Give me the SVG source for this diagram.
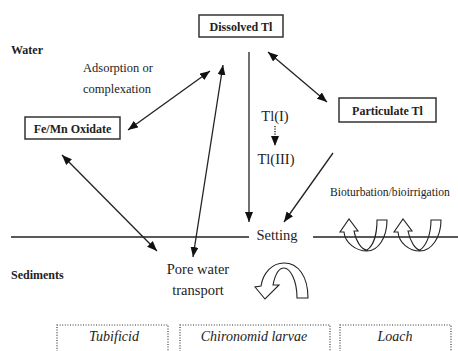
<svg xmlns="http://www.w3.org/2000/svg" width="458" height="351" viewBox="0 0 458 351">
<defs>
<style>
text{font-family:"Liberation Serif","Times New Roman",serif;fill:#222}
.b{font-weight:bold;font-size:12px}
.r{font-size:12.5px}
.m{font-size:14.5px}
.i{font-style:italic;font-size:14px}
.box{fill:#fff;stroke:#333;stroke-width:1.5}
.dbox{fill:none;stroke:#333;stroke-width:1.2;stroke-dasharray:1 1.6}
.ln{fill:none;stroke:#222;stroke-width:1.3}
.blk{fill:none;stroke:#222;stroke-width:1.1;stroke-linejoin:miter}
</style>
<marker id="ah" viewBox="0 0 10 8" refX="10" refY="4" markerWidth="10" markerHeight="8" markerUnits="userSpaceOnUse" orient="auto-start-reverse">
<path d="M0,0 L10,4 L0,8 z" fill="#111"/>
</marker>
</defs>

<g id="labels">
<text class="b" x="11" y="54">Water</text>
<text class="b" x="11" y="279">Sediments</text>
<text class="r" x="83" y="72">Adsorption or</text>
<text class="r" x="83" y="93">complexation</text>
<text class="m" x="275" y="121" text-anchor="middle">Tl(I)</text>
<text class="m" x="276" y="164" text-anchor="middle">Tl(III)</text>
<text x="330" y="196" font-size="11.6">Bioturbation/bioirrigation</text>
<text class="m" x="277" y="240" text-anchor="middle">Setting</text>
<text class="m" x="198" y="274" text-anchor="middle">Pore water</text>
<text class="m" x="198" y="295" text-anchor="middle">transport</text>
</g>

<g id="interface">
<line class="ln" x1="11" y1="237" x2="249" y2="237"/>
<line class="ln" x1="313" y1="237" x2="458" y2="237"/>
</g>

<g id="connectors">
<line class="ln" x1="128" y1="130" x2="210" y2="71" marker-start="url(#ah)" marker-end="url(#ah)"/>
<line class="ln" x1="223" y1="65" x2="193" y2="257" marker-start="url(#ah)" marker-end="url(#ah)"/>
<line class="ln" x1="62" y1="155" x2="157" y2="251" marker-start="url(#ah)" marker-end="url(#ah)"/>
<line class="ln" x1="249" y1="52" x2="249" y2="222" marker-end="url(#ah)"/>
<line class="ln" x1="268" y1="52" x2="327" y2="102" marker-start="url(#ah)" marker-end="url(#ah)"/>
<line class="ln" x1="333" y1="153" x2="284" y2="222" marker-end="url(#ah)"/>
<line x1="275" y1="126" x2="275" y2="146" stroke="#222" stroke-width="1.3" stroke-dasharray="1.2 1.3" marker-end="url(#ah)"/>
</g>

<g id="dissolved">
<rect class="box" x="199" y="15" width="84" height="22"/>
<text class="b" x="241" y="30.5" text-anchor="middle">Dissolved Tl</text>
</g>
<g id="oxidate">
<rect class="box" x="25" y="117" width="95" height="22"/>
<text class="b" x="72.5" y="132.5" text-anchor="middle">Fe/Mn Oxidate</text>
</g>
<g id="particulate">
<rect class="box" x="339" y="98" width="97" height="24"/>
<text class="b" x="387.5" y="114.5" text-anchor="middle">Particulate Tl</text>
</g>

<g id="curved-arrows">
<path class="blk" d="M308 298 C308 276 298 263 284 263 C272 263 263 273 261 286 L255 287 L265 299 L279 285 L273 285 C275 275 279 268 284 268 C290 268 297 280 297 298 Z"/>
<path class="blk" d="M377 220 L387 220 C387 238 378 251 367 251 C356 251 345 243 344 232 L340 232 L349 219 L358 231 L354 231 C356 242 362 250 367 250 C373 246 377 235 377 220 Z"/>
<path class="blk" d="M431 220 L441 220 C441 238 431 251 420 251 C409 251 399 243 398 232 L394 232 L403 219 L412 231 L408 231 C410 242 416 250 420 250 C426 246 431 235 431 220 Z"/>
</g>

<g id="tubificid">
<rect class="dbox" x="57" y="325" width="111" height="40"/>
<text class="i" x="114" y="341" text-anchor="middle">Tubificid</text>
</g>
<g id="chironomid">
<rect class="dbox" x="180" y="325" width="150" height="40"/>
<text class="i" x="254" y="341" text-anchor="middle">Chironomid larvae</text>
</g>
<g id="loach">
<rect class="dbox" x="340" y="325" width="111" height="40"/>
<text class="i" x="395" y="341" text-anchor="middle">Loach</text>
</g>
</svg>
